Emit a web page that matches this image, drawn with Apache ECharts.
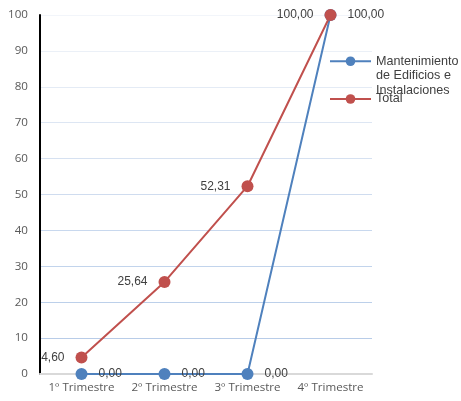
<!DOCTYPE html>
<html><head><meta charset="utf-8">
<script src="https://cdn.jsdelivr.net/npm/echarts@6/dist/echarts.min.js"></script>
<style>html,body{margin:0;padding:0;background:#fff}#c{width:461px;height:401px}</style>
</head><body><div id="c"></div>
<script>
const categories = ['1º Trimestre', '2º Trimestre', '3º Trimestre', '4º Trimestre'];
const mantenimiento = [0, 0, 0, 100];
const total = [4.60, 25.64, 52.31, 100];
const seriesNames = ['Mantenimiento de Edificios e Instalaciones', 'Total'];
const yMin = 0, yMax = 100, yStep = 10;

const blue = '#4f81bd', red = '#c0504d';
const gridColors = ['#b8cce8', '#b8cce8', '#bcd0ea', '#c2d4ec', '#c8d8ee', '#cfdcef',
                    '#d6e1f1', '#dde6f3', '#e4ebf5', '#ebf0f7', '#f2f5fa'];
const fmt = p => p.value.toFixed(2).replace('.', ',');
const chart = echarts.init(document.getElementById('c'), null, {renderer: 'canvas'});
chart.setOption({
  animation: false,
  grid: {left: 40, right: 89, top: 15, bottom: 27, containLabel: false},
  legend: [
    {data: [seriesNames[0]], left: 329, top: 25, orient: 'vertical', padding: 0,
     itemWidth: 41, itemHeight: 12,
     formatter: () => '\n\nMantenimiento\nde Edificios e\nInstalaciones',
     textStyle: {fontFamily: 'Liberation Sans', fontSize: 12.6, color: '#404040', lineHeight: 14.5}},
    {data: [seriesNames[1]], left: 329, top: 92.5, orient: 'vertical', padding: 0,
     itemWidth: 41, itemHeight: 12,
     textStyle: {fontFamily: 'Liberation Sans', fontSize: 12.6, color: '#404040'}}
  ],
  xAxis: {
    type: 'category', data: categories, boundaryGap: true,
    axisLine: {show: true, lineStyle: {color: '#d9d9d9', width: 2}},
    axisTick: {show: false},
    axisLabel: {interval: 0, color: '#595959', fontFamily: 'Open Sans', fontSize: 11.6, margin: 8},
    splitLine: {show: false}
  },
  yAxis: {
    type: 'value', min: yMin, max: yMax, interval: yStep,
    axisLine: {show: true, onZero: false, lineStyle: {color: '#000', width: 2}},
    axisTick: {show: false},
    axisLabel: {color: '#595959', fontFamily: 'Open Sans', fontSize: 11.6, margin: 12},
    splitLine: {show: true, lineStyle: {color: gridColors, width: 1}}
  },
  series: [
    {name: seriesNames[0], type: 'line', data: mantenimiento, symbol: 'circle', symbolSize: 12,
     itemStyle: {color: blue}, lineStyle: {color: blue, width: 2},
     label: {show: true, position: 'right', distance: 11, formatter: fmt,
             color: '#404040', fontFamily: 'Liberation Sans', fontSize: 12}},
    {name: seriesNames[1], type: 'line', data: total, symbol: 'circle', symbolSize: 12,
     itemStyle: {color: red}, lineStyle: {color: red, width: 2},
     label: {show: true, position: 'left', distance: 11, formatter: fmt,
             color: '#404040', fontFamily: 'Liberation Sans', fontSize: 12}}
  ]
});
</script></body></html>
